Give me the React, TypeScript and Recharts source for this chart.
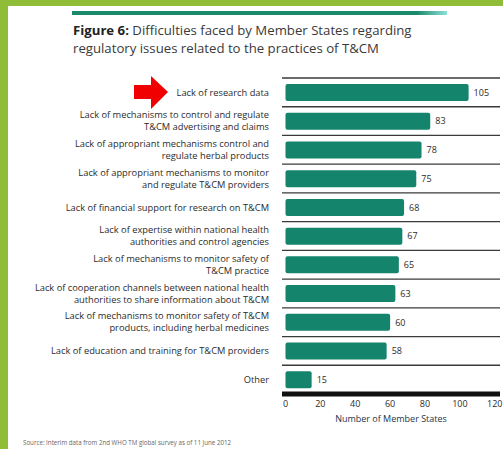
import { BarChart, Bar, XAxis, YAxis, CartesianGrid, LabelList } from 'recharts'

const categories = [
  'Lack of research data',
  'Lack of mechanisms to control and regulate\nT&CM advertising and claims',
  'Lack of appropriant mechanisms control and\nregulate herbal products',
  'Lack of appropriant mechanisms to monitor\nand regulate T&CM providers',
  'Lack of financial support for research on T&CM',
  'Lack of expertise within national health\nauthorities and control agencies',
  'Lack of mechanisms to monitor safety of\nT&CM practice',
  'Lack of cooperation channels between national health\nauthorities to share information about T&CM',
  'Lack of mechanisms to monitor safety of T&CM\nproducts, including herbal medicines',
  'Lack of education and training for T&CM providers',
  'Other',
]
const memberStates = [105, 83, 78, 75, 68, 67, 65, 63, 60, 58, 15]
const xTicks = [0, 20, 40, 60, 80, 100, 120]

const data = categories.map((name, i) => ({ name, value: memberStates[i] }))

const FONT = '"Open Sans", "Noto Sans", sans-serif'
const TEAL = '#15846c'
const TEXT = '#2b2b2b'

function CategoryTick({ x, y, payload }: any) {
  const lines = String(payload.value).split('\n')
  const lh = 12
  const start = y - ((lines.length - 1) * lh) / 2
  return (
    <text x={x - 5} y={start} textAnchor="end" fontSize={9.3} fill={TEXT} fontFamily={FONT}>
      {lines.map((l, i) => (
        <tspan key={i} x={x - 5} y={start + i * lh} dy="0.35em">
          {l}
        </tspan>
      ))}
    </text>
  )
}

export default function App() {
  const n = data.length
  return (
    <div
      style={{
        position: 'absolute',
        left: 0,
        top: 0,
        width: 503,
        height: 449,
        background: '#8fbd38',
        overflow: 'hidden',
        fontFamily: FONT,
      }}
    >
      <div style={{ position: 'absolute', left: 8, top: 6, right: 0, bottom: 0, background: '#fff' }} />
      <div
        style={{
          position: 'absolute',
          left: 72,
          top: 11,
          width: 375,
          height: 4,
          background: 'linear-gradient(to right, #1a8a6c 0%, #1a8a6c 92%, #8fe0d8 100%)',
        }}
      />
      <div
        style={{
          position: 'absolute',
          left: 73,
          top: 21,
          fontSize: 13.2,
          lineHeight: '18px',
          color: '#3a3a3a',
          whiteSpace: 'nowrap',
        }}
      >
        <b style={{ color: '#222' }}>Figure 6:</b> Difficulties faced by Member States regarding
        <br />
        regulatory issues related to the practices of T&amp;CM
      </div>

      <BarChart
        width={503}
        height={449}
        data={data}
        layout="vertical"
        margin={{ top: 78, right: 3, bottom: 25, left: 0 }}
        barSize={17}
        style={{ position: 'absolute', left: 0, top: 0 }}
      >
        <CartesianGrid
          vertical={false}
          stroke="#3a3a3a"
          strokeWidth={1.3}
          horizontalCoordinatesGenerator={({ offset }: any) =>
            data.map((_, i) => offset.top + (i * offset.height) / n)
          }
        />
        <XAxis
          type="number"
          domain={[-2, 123]}
          ticks={xTicks}
          tickLine={false}
          tickSize={2}
          tickMargin={5}
          axisLine={{ stroke: '#111', strokeWidth: 5 }}
          height={30}
          tick={{ fontSize: 9, fill: TEXT, fontFamily: FONT }}
          label={{
            value: 'Number of Member States',
            position: 'insideBottom',
            offset: 2,
            fontSize: 9,
            fill: '#23344a',
            fontFamily: FONT,
          }}
        />
        <YAxis
          type="category"
          dataKey="name"
          width={282}
          tickLine={false}
          axisLine={false}
          interval={0}
          tick={<CategoryTick />}
        />
        <Bar dataKey="value" fill={TEAL} radius={2} isAnimationActive={false}>
          <LabelList
            dataKey="value"
            position="right"
            offset={5}
            fontSize={9}
            fill={TEXT}
            fontFamily={FONT}
          />
        </Bar>
      </BarChart>

      <svg
        width={503}
        height={449}
        style={{ position: 'absolute', left: 0, top: 0, pointerEvents: 'none' }}
      >
        <polygon points="134,85 151,85 151,76 168,92 151,109 151,99 134,99" fill="#f00000" />
      </svg>

      <div
        style={{
          position: 'absolute',
          left: 23,
          top: 438,
          fontSize: 6.2,
          color: '#666',
          whiteSpace: 'nowrap',
        }}
      >
        Source: Interim data from 2nd WHO TM global survey as of 11 June 2012
      </div>
    </div>
  )
}
